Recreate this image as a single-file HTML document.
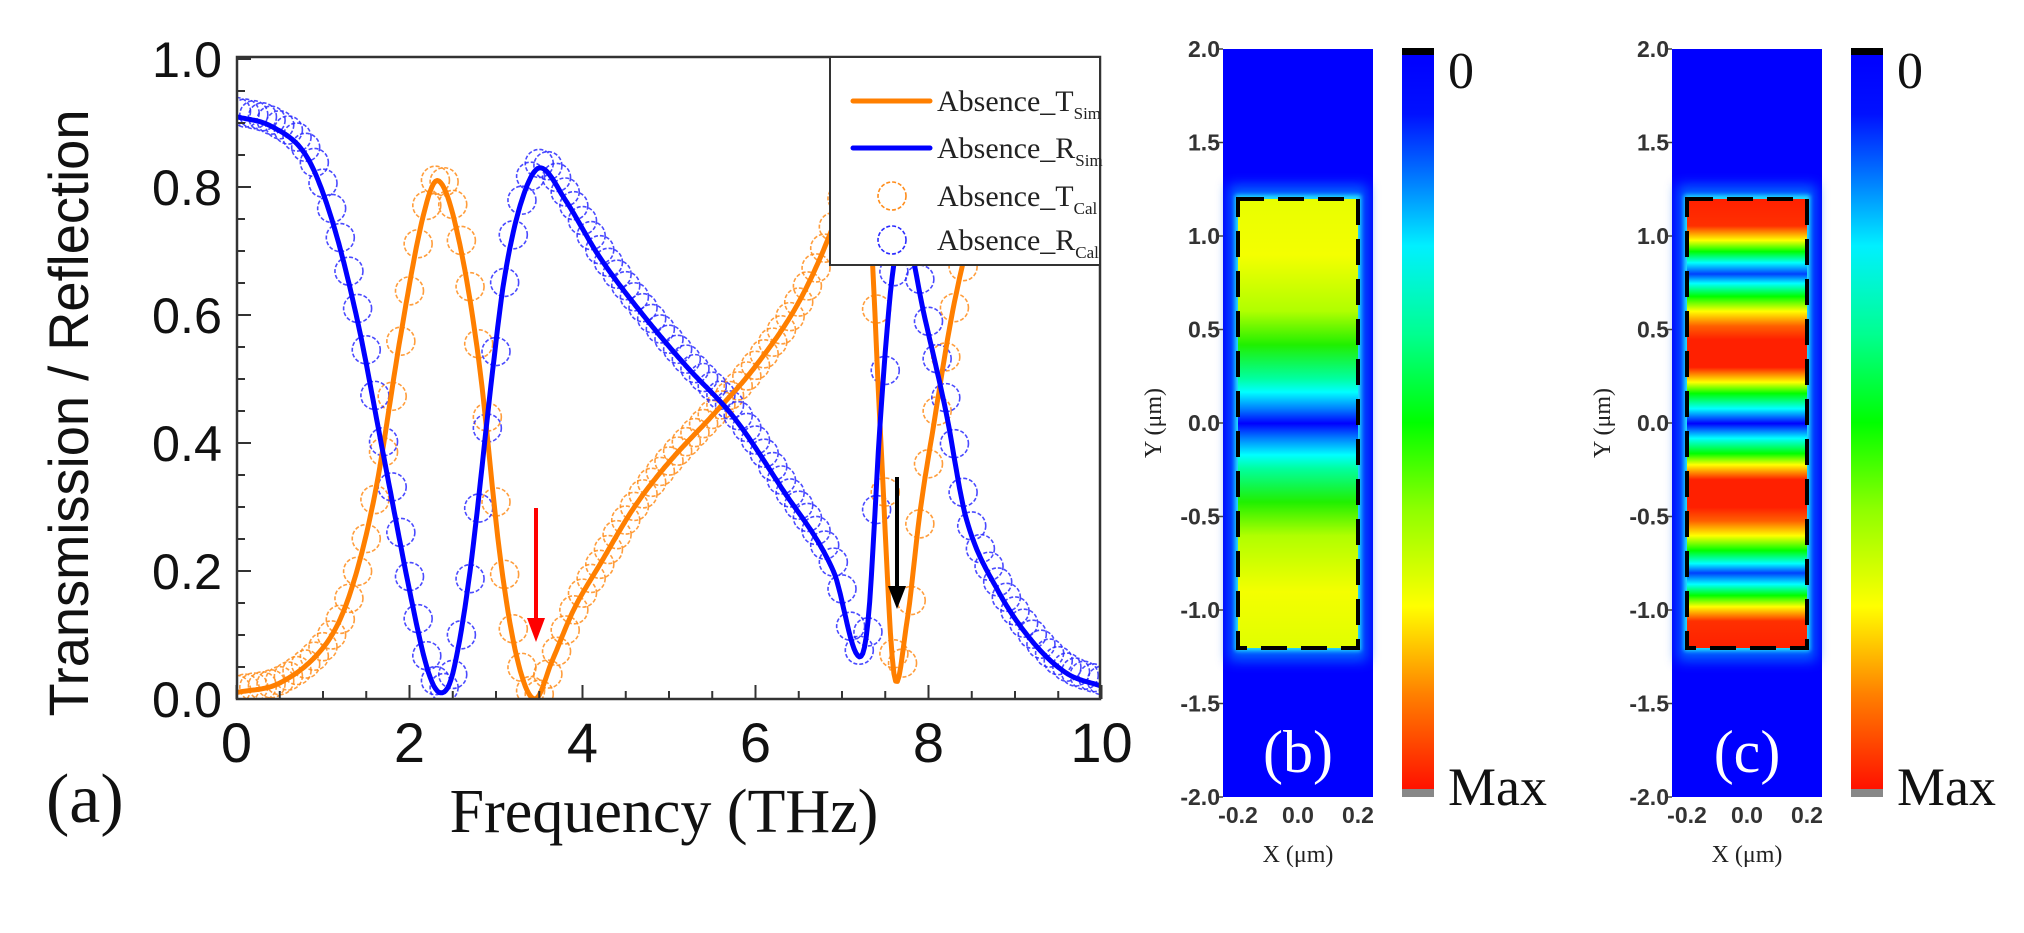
<!DOCTYPE html>
<html><head><meta charset="utf-8"><style>
html,body{margin:0;padding:0;background:#fff;}
svg{display:block;}
</style></head><body>
<svg id="s" width="2024" height="933" viewBox="0 0 2024 933" xmlns="http://www.w3.org/2000/svg">
<defs>
<clipPath id="pc"><rect x="237" y="57" width="863" height="643"/></clipPath>
<filter id="bl" x="-30%" y="-30%" width="160%" height="160%"><feGaussianBlur stdDeviation="6"/></filter>
<filter id="bl2" x="-30%" y="-30%" width="160%" height="160%"><feGaussianBlur stdDeviation="2"/></filter>
<linearGradient id="cb" x1="0" y1="0" x2="0" y2="1">
<stop offset="0" stop-color="#0000ff"/><stop offset="0.08" stop-color="#0010ff"/>
<stop offset="0.16" stop-color="#0070ff"/><stop offset="0.26" stop-color="#00f0ff"/>
<stop offset="0.38" stop-color="#00ff90"/><stop offset="0.50" stop-color="#00ff00"/>
<stop offset="0.62" stop-color="#90ff00"/><stop offset="0.75" stop-color="#ffff00"/>
<stop offset="0.87" stop-color="#ff8000"/><stop offset="1" stop-color="#ff1000"/>
</linearGradient>
<linearGradient id="gb" x1="0" y1="0" x2="0" y2="1">
<stop offset="0" stop-color="#e8ff00"/><stop offset="0.125" stop-color="#f4ff00"/>
<stop offset="0.25" stop-color="#b0ff00"/><stop offset="0.325" stop-color="#20f000"/>
<stop offset="0.40" stop-color="#00ffa0"/><stop offset="0.43" stop-color="#00ffff"/>
<stop offset="0.467" stop-color="#0080ff"/><stop offset="0.5" stop-color="#0000ff"/>
<stop offset="0.533" stop-color="#0080ff"/><stop offset="0.57" stop-color="#00ffff"/>
<stop offset="0.60" stop-color="#00ffa0"/><stop offset="0.675" stop-color="#20f000"/>
<stop offset="0.75" stop-color="#b0ff00"/><stop offset="0.875" stop-color="#f4ff00"/>
<stop offset="1" stop-color="#e0ff00"/>
</linearGradient>
<linearGradient id="gc" x1="0" y1="0" x2="0" y2="1">
<stop offset="0" stop-color="#ff2000"/><stop offset="0.06" stop-color="#ff3000"/>
<stop offset="0.092" stop-color="#ffff00"/><stop offset="0.117" stop-color="#00ff00"/>
<stop offset="0.142" stop-color="#00ffff"/><stop offset="0.167" stop-color="#0040ff"/>
<stop offset="0.188" stop-color="#00ffff"/><stop offset="0.217" stop-color="#00ff00"/>
<stop offset="0.25" stop-color="#ffff00"/><stop offset="0.283" stop-color="#ff6000"/>
<stop offset="0.313" stop-color="#ff2000"/><stop offset="0.375" stop-color="#ff2000"/>
<stop offset="0.408" stop-color="#ffff00"/><stop offset="0.433" stop-color="#00ff00"/>
<stop offset="0.467" stop-color="#00ffff"/><stop offset="0.5" stop-color="#0000ff"/>
<stop offset="0.533" stop-color="#00ffff"/><stop offset="0.567" stop-color="#00ff00"/>
<stop offset="0.592" stop-color="#ffff00"/><stop offset="0.625" stop-color="#ff2000"/>
<stop offset="0.687" stop-color="#ff2000"/><stop offset="0.717" stop-color="#ff6000"/>
<stop offset="0.75" stop-color="#ffff00"/><stop offset="0.783" stop-color="#00ff00"/>
<stop offset="0.812" stop-color="#00ffff"/><stop offset="0.833" stop-color="#0040ff"/>
<stop offset="0.858" stop-color="#00ffff"/><stop offset="0.883" stop-color="#00ff00"/>
<stop offset="0.908" stop-color="#ffff00"/><stop offset="0.94" stop-color="#ff3000"/>
<stop offset="1" stop-color="#ff2000"/>
</linearGradient>
</defs>
<rect width="2024" height="933" fill="#fff"/>
<g id="plot"></g>
<g id="maps"></g>
</svg>
<script>
const NS="http://www.w3.org/2000/svg";
function el(p,t,a,txt){const e=document.createElementNS(NS,t);for(const k in a)e.setAttribute(k,a[k]);if(txt!==undefined)e.textContent=txt;p.appendChild(e);return e;}
const P=document.getElementById('plot');
const X=f=>236.5+f*86.5, Y=v=>699-v*640;
const T=[[0,0.01],[0.5,0.025],[1,0.08],[1.3,0.16],[1.6,0.32],[1.9,0.57],[2.15,0.75],[2.33,0.81],[2.55,0.73],[2.8,0.53],[3.05,0.22],[3.25,0.06],[3.45,0.0],[3.65,0.06],[3.9,0.14],[4.2,0.21],[4.6,0.30],[5.0,0.37],[5.55,0.45],[6,0.52],[6.5,0.62],[6.9,0.74],[7.15,0.85],[7.3,0.8],[7.45,0.4],[7.6,0.04],[7.75,0.12],[7.9,0.29],[8.05,0.42],[8.3,0.62],[8.6,0.78],[9,0.88],[9.5,0.93],[10,0.95]];
const R=[[0,0.91],[0.4,0.895],[0.8,0.85],[1.1,0.75],[1.4,0.59],[1.7,0.38],[2.0,0.17],[2.2,0.05],[2.35,0.01],[2.5,0.04],[2.7,0.2],[2.95,0.5],[3.1,0.66],[3.3,0.78],[3.51,0.83],[3.8,0.78],[4.2,0.69],[4.7,0.6],[5.2,0.52],[5.75,0.44],[6.3,0.33],[6.9,0.2],[7.17,0.07],[7.3,0.12],[7.45,0.45],[7.6,0.68],[7.75,0.72],[7.95,0.6],[8.2,0.45],[8.44,0.28],[8.8,0.17],[9.2,0.09],[9.6,0.04],[10,0.02]];
function interp(pts,f){let i=0;while(i<pts.length-2&&pts[i+1][0]<f)i++;
 const p0=pts[Math.max(i-1,0)],p1=pts[i],p2=pts[i+1],p3=pts[Math.min(i+2,pts.length-1)];
 const t=(f-p1[0])/(p2[0]-p1[0]);
 const m1=(p2[1]-p0[1])/(p2[0]-p0[0]||1)*(p2[0]-p1[0]), m2=(p3[1]-p1[1])/(p3[0]-p1[0]||1)*(p2[0]-p1[0]);
 const t2=t*t,t3=t2*t;
 return (2*t3-3*t2+1)*p1[1]+(t3-2*t2+t)*m1+(-2*t3+3*t2)*p2[1]+(t3-t2)*m2;}
const g=el(P,'g',{'clip-path':'url(#pc)'});
function circles(pts,col,df,dv){for(let f=0;f<=10.001;f+=0.1){const v=interp(pts,Math.min(10,Math.max(0,f-df)))+dv;
 el(g,'circle',{cx:X(f),cy:Y(v),r:14,fill:'none',stroke:col,'stroke-width':1.6,'stroke-dasharray':'4 2',opacity:0.85});}}
circles(T,'#ff8c1a',0.02,0.005);circles(R,'#2a2aff',0.02,0.008);
function line(pts,col){let d='';for(let f=0;f<=10.0001;f+=0.02){d+=(d?'L':'M')+X(f).toFixed(1)+','+Y(interp(pts,f)).toFixed(1);}
 el(g,'path',{d:d,fill:'none',stroke:col,'stroke-width':5,'stroke-linejoin':'round'});}
line(T,'#ff7f00');line(R,'#0000ff');
// arrows
el(P,'line',{x1:536,y1:508,x2:536,y2:620,stroke:'#ff0000','stroke-width':4});
el(P,'polygon',{points:'527,618 545,618 536,642',fill:'#ff0000'});
el(P,'line',{x1:897,y1:477,x2:897,y2:588,stroke:'#000','stroke-width':4});
el(P,'polygon',{points:'888,586 906,586 897,609',fill:'#000'});
// frame
el(P,'rect',{x:237,y:57,width:863,height:642,fill:'none',stroke:'#333','stroke-width':2.5});
for(let i=0;i<=20;i++){const y=Y(i*0.05);const L=i%4==0?14:8;el(P,'line',{x1:237,y1:y,x2:237+L,y2:y,stroke:'#333','stroke-width':2});}
for(let i=0;i<=20;i++){const x=X(i*0.5);const L=i%4==0?14:8;el(P,'line',{x1:x,y1:699,x2:x,y2:699-L,stroke:'#333','stroke-width':2});}
['0.0','0.2','0.4','0.6','0.8','1.0'].forEach((t,i)=>el(P,'text',{x:222,y:Y(i*0.2)+18,'text-anchor':'end','font-family':'Liberation Sans, sans-serif','font-size':50,textLength:70,lengthAdjust:'spacingAndGlyphs',fill:'#111'},t));
['0','2','4','6','8','10'].forEach((t,i)=>el(P,'text',{x:X(i*2),y:762,'text-anchor':'middle','font-family':'Liberation Sans, sans-serif','font-size':56,fill:'#111'},t));
el(P,'text',{transform:'translate(88,413) rotate(-90)','text-anchor':'middle','font-family':'Liberation Sans, sans-serif','font-size':56,textLength:607,lengthAdjust:'spacingAndGlyphs',fill:'#111'},'Transmission / Reflection');
el(P,'text',{x:664,y:832,'text-anchor':'middle','font-family':'Liberation Serif, serif','font-size':62,fill:'#111'},'Frequency (THz)');
el(P,'text',{x:46,y:822,'font-family':'Liberation Serif, serif','font-size':70,fill:'#111'},'(a)');
// legend
el(P,'rect',{x:830,y:57,width:270,height:208,fill:'#fff',stroke:'#333','stroke-width':2});
const lg=[['Absence_T','Sim','l','#ff7f00'],['Absence_R','Sim','l','#0000ff'],['Absence_T','Cal','c','#ff8c1a'],['Absence_R','Cal','c','#2a2aff']];
[101,148,196,240].forEach((y,i)=>{const a=lg[i];
 if(a[2]=='l')el(P,'line',{x1:853,y1:y,x2:930,y2:y,stroke:a[3],'stroke-width':5,'stroke-linecap':'round'});
 else el(P,'circle',{cx:892,cy:y,r:14,fill:'none',stroke:a[3],'stroke-width':1.6,'stroke-dasharray':'4 2'});
 const t=el(P,'text',{x:937,y:y+10,'font-family':'Liberation Serif, serif','font-size':30,fill:'#222'});
 el(t,'tspan',{},a[0]);el(t,'tspan',{dy:8,'font-size':17},a[1]);});
// maps
const M=document.getElementById('maps');
function map(ox,grad,lab){
 const x0=1223+ox,w=150;
 el(M,'rect',{x:x0,y:49,width:w,height:748,fill:'#0000ff'});
 el(M,'rect',{x:x0+6,y:185,width:w-12,height:476,fill:'#0060ff',filter:'url(#bl)'});
 el(M,'rect',{x:x0+12,y:195,width:w-24,height:456,fill:'#20e0ff',filter:'url(#bl2)'});
 el(M,'rect',{x:x0+15,y:199,width:120,height:449,fill:'url(#'+grad+')'});
 el(M,'rect',{x:x0+15,y:199,width:120,height:449,fill:'none',stroke:'#000','stroke-width':4,'stroke-dasharray':'26 14'});
 el(M,'text',{x:x0+75,y:772,'text-anchor':'middle','font-family':'Liberation Serif, serif','font-size':60,fill:'#fff'},lab);
 ['2.0','1.5','1.0','0.5','0.0','-0.5','-1.0','-1.5','-2.0'].forEach((t,i)=>{const y=49+i*93.5;
  el(M,'line',{x1:x0-4,y1:y,x2:x0,y2:y,stroke:'#444','stroke-width':1.5});
  el(M,'text',{x:x0-3,y:y+8,'text-anchor':'end','font-family':'Liberation Sans, sans-serif','font-size':23,'font-weight':'bold',fill:'#333'},t);});
 [['-0.2',15],['0.0',75],['0.2',135]].forEach(a=>el(M,'text',{x:x0+a[1],y:823,'text-anchor':'middle','font-family':'Liberation Sans, sans-serif','font-size':23,'font-weight':'bold',fill:'#333'},a[0]));
 el(M,'text',{x:x0+75,y:862,'text-anchor':'middle','font-family':'Liberation Serif, serif','font-size':24,fill:'#222'},'X (\u03bcm)');
 el(M,'text',{transform:'translate('+(x0-62)+',423) rotate(-90)','text-anchor':'middle','font-family':'Liberation Serif, serif','font-size':24,fill:'#222'},'Y (\u03bcm)');
 const cx=1402+ox;
 el(M,'rect',{x:cx,y:55,width:32,height:735,fill:'url(#cb)'});
 el(M,'rect',{x:cx,y:48,width:32,height:7,fill:'#000'});
 el(M,'rect',{x:cx,y:789,width:32,height:8,fill:'#888'});
 el(M,'text',{x:cx+46,y:88,'font-family':'Liberation Serif, serif','font-size':52,fill:'#111'},'0');
 el(M,'text',{x:cx+46,y:805,'font-family':'Liberation Serif, serif','font-size':54,fill:'#111'},'Max');
}
map(0,'gb','(b)');map(449,'gc','(c)');
</script>
</body></html>
